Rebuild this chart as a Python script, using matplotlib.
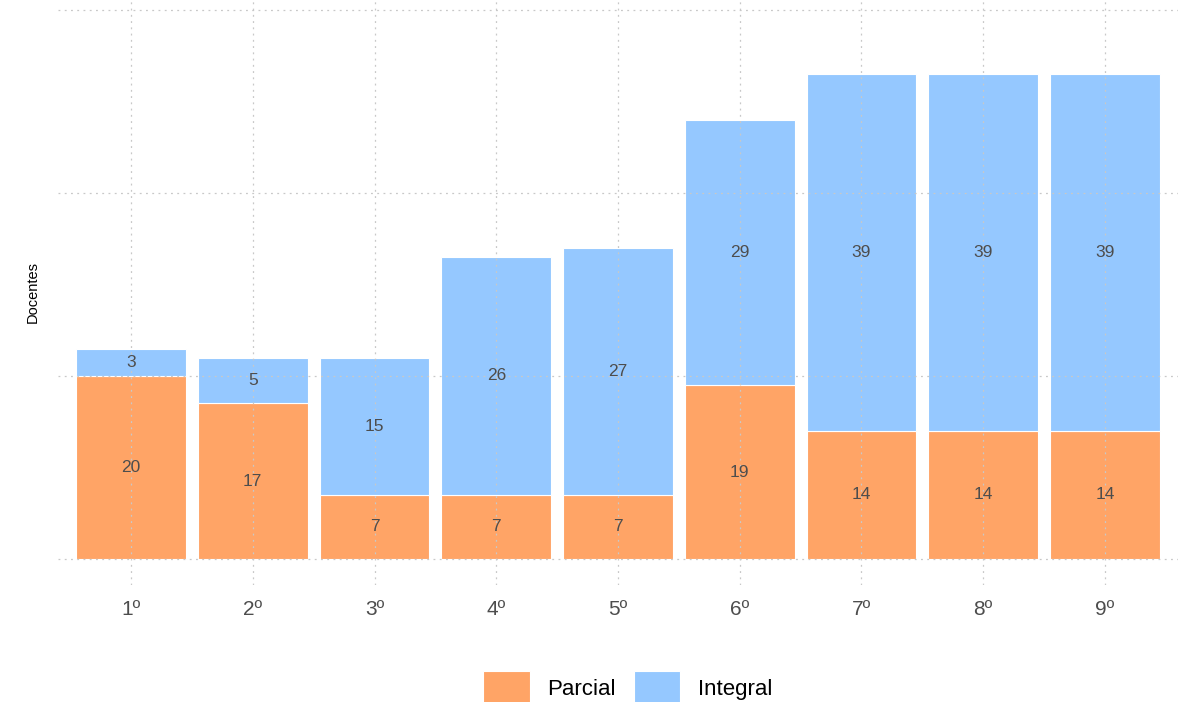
import matplotlib.pyplot as plt

plt.rcParams['font.family'] = ['Liberation Sans', 'DejaVu Sans']

anos = ['1º', '2º', '3º', '4º', '5º', '6º', '7º', '8º', '9º']
parcial = [20, 17, 7, 7, 7, 19, 14, 14, 14]
integral = [3, 5, 15, 26, 27, 29, 39, 39, 39]

cor_parcial = '#FFA466'
cor_integral = '#95C8FF'
cinza = '#4D4D4D'

fig = plt.figure(figsize=(11.89, 7.02), dpi=100)
ax = fig.add_axes([58 / 1189, 117 / 702, 1120 / 1189, 585 / 702])

x = range(len(anos))
b1 = ax.bar(x, parcial, width=0.9, color=cor_parcial, edgecolor='white', linewidth=0.8, zorder=1, label='Parcial')
b2 = ax.bar(x, integral, width=0.9, bottom=parcial, color=cor_integral, edgecolor='white', linewidth=0.8, zorder=1, label='Integral')

# rótulos no meio de cada segmento
for i in x:
    ax.text(i, parcial[i] / 2, str(parcial[i]), ha='center', va='center', fontsize=12.5, color=cinza, zorder=3)
    ax.text(i, parcial[i] + integral[i] / 2, str(integral[i]), ha='center', va='center', fontsize=12.5, color=cinza, zorder=3)

ax.set_xlim(-0.6, 8.6)
ax.set_ylim(-2.85, 61.1)
ax.set_yticks([0, 20, 40, 60])
ax.set_yticklabels([])
ax.set_xticks(list(x))
ax.set_xticklabels(anos, fontsize=15, color=cinza)
ax.tick_params(length=0, pad=11)
ax.tick_params(axis='y', pad=0)
ax.grid(True, color='#C8C8C8', linestyle=(0, (1.5, 3.5)), linewidth=0.9, zorder=2)
ax.set_axisbelow(False)
for s in ax.spines.values():
    s.set_visible(False)

fig.text(33 / 1189, 1 - 292 / 702, 'Docentes', rotation=90, ha='center', va='center', fontsize=10.5, color='black')

fig.legend(handles=[b1, b2], labels=['Parcial', 'Integral'], loc='center', bbox_to_anchor=(0.528, 0.02),
           ncol=2, frameon=False, fontsize=16, handlelength=2.1, handleheight=2.0,
           handletextpad=0.8, columnspacing=0.8)

fig.savefig('out.png', dpi=100)
